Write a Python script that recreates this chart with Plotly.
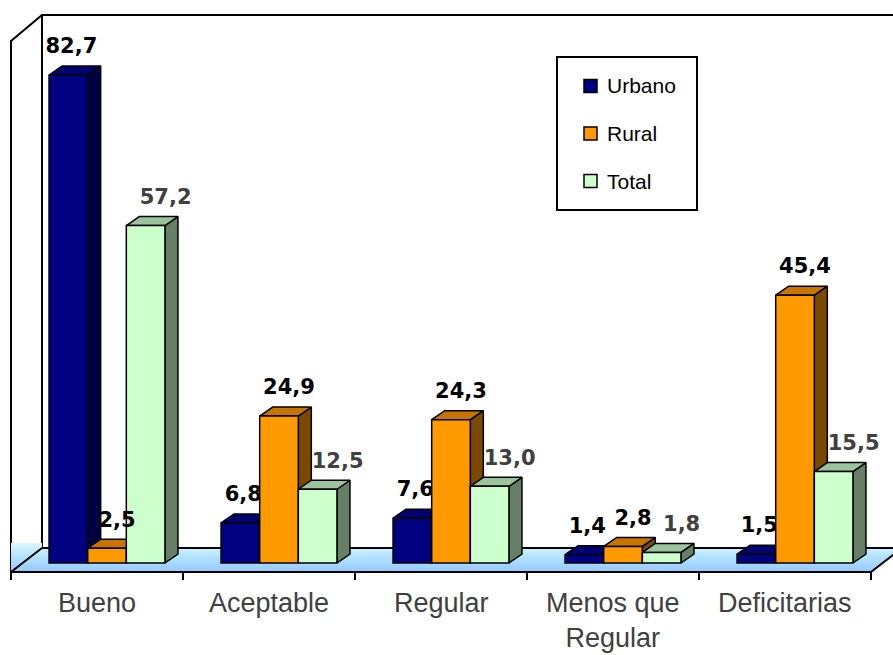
import plotly.graph_objects as go

# ---------------- data ----------------
categories = ["Bueno", "Aceptable", "Regular", "Menos que<br>Regular", "Deficitarias"]
series_names = ["Urbano", "Rural", "Total"]
urbano = [82.7, 6.8, 7.6, 1.4, 1.5]
rural = [2.5, 24.9, 24.3, 2.8, 45.4]
total = [57.2, 12.5, 13.0, 1.8, 15.5]
y_max = 90

# ---------------- styles ----------------
front_colors = ["#000080", "#FF9900", "#CCFFCC"]
top_colors = ["#00006E", "#C87400", "#9CC49C"]
side_colors = ["#000042", "#7A4A00", "#667F66"]
label_colors = ["#000000", "#000000", "#404040"]
label_dx_px = [3, 10, 20]

W, H = 893, 655
PX_X = 172.0   # px per category
PX_Y = 5.9     # px per value unit
X0_PX = 107.0  # pixel of first category centre (bar front plane)
Y0_PX = 563.0  # pixel of value 0 (bar front plane)

def dx(px):
    return px / PX_X

def dy(px):
    return px / PX_Y

xr = [(0 - X0_PX) / PX_X, (W - X0_PX) / PX_X]
yr = [(Y0_PX - H) / PX_Y, Y0_PX / PX_Y]

bar_ox, bar_oy = dx(13), dy(9)        # bar depth
front_ox, front_oy = dx(-10), dy(-9)  # floor front edge
back_ox, back_oy = dx(21), dy(15)     # back wall plane

group_w = 0.674
bar_w = group_w / 3
n = len(categories)
series = [urbano, rural, total]

fig = go.Figure()

# ---------------- walls ----------------
L = -0.5
R = n - 0.5
# back wall
fig.add_trace(go.Scatter(
    x=[L + back_ox, R + back_ox, R + back_ox, L + back_ox, L + back_ox],
    y=[back_oy, back_oy, y_max + back_oy + dy(2), y_max + back_oy + dy(2), back_oy],
    mode="lines", fill="toself", fillcolor="white",
    line=dict(color="black", width=2), hoverinfo="skip", showlegend=False))
# left wall
fig.add_trace(go.Scatter(
    x=[L + front_ox, L + front_ox, L + back_ox, L + back_ox, L + front_ox],
    y=[front_oy, y_max + front_oy, y_max + back_oy + dy(2), back_oy, front_oy],
    mode="lines", fill="toself", fillcolor="white",
    line=dict(color="black", width=2), hoverinfo="skip", showlegend=False))
# floor (gradient)
fig.add_trace(go.Scatter(
    x=[L + front_ox, L + front_ox, L + back_ox, L + back_ox, R + back_ox, R + front_ox, L + front_ox],
    y=[front_oy, back_oy + dy(5), back_oy + dy(5), back_oy, back_oy, front_oy, front_oy],
    mode="lines", fill="toself",
    fillgradient=dict(type="vertical",
                      colorscale=[[0, "#96C8FF"], [0.55, "#B4E4FF"], [1, "#DDF7FF"]]),
    line=dict(color="rgba(0,0,0,0)", width=0), hoverinfo="skip", showlegend=False))
# floor outline
fig.add_trace(go.Scatter(
    x=[L + back_ox, L + front_ox, R + front_ox, R + back_ox, None, L + back_ox, R + back_ox],
    y=[back_oy, front_oy, front_oy, back_oy, None, back_oy, back_oy],
    mode="lines", line=dict(color="black", width=2), hoverinfo="skip", showlegend=False))
# ticks
tx, ty = [], []
for b in range(n + 1):
    tx += [L + b + front_ox, L + b + front_ox, None]
    ty += [front_oy, front_oy - dy(8), None]
fig.add_trace(go.Scatter(x=tx, y=ty, mode="lines", line=dict(color="black", width=2),
                         hoverinfo="skip", showlegend=False))

# ---------------- bar tops and sides ----------------
for k, vals in enumerate(series):
    sx, sy, ux, uy = [], [], [], []
    for i, v in enumerate(vals):
        c = i + (k - 1) * bar_w
        xl, xrt = c - bar_w / 2, c + bar_w / 2
        sx += [xrt, xrt + bar_ox, xrt + bar_ox, xrt, xrt, None]
        sy += [0, bar_oy, v + bar_oy, v, 0, None]
        ux += [xl, xrt, xrt + bar_ox, xl + bar_ox, xl, None]
        uy += [v, v, v + bar_oy, v + bar_oy, v, None]
    fig.add_trace(go.Scatter(x=sx, y=sy, mode="lines", fill="toself", fillcolor=side_colors[k],
                             line=dict(color="black", width=1.5), hoverinfo="skip", showlegend=False))
    fig.add_trace(go.Scatter(x=ux, y=uy, mode="lines", fill="toself", fillcolor=top_colors[k],
                             line=dict(color="black", width=1.5), hoverinfo="skip", showlegend=False))

def fmt(v):
    return f"{v:.1f}".replace(".", ",")

def label_trace(k, axes):
    vals = series[k]
    return go.Scatter(
        x=[i + (k - 1) * bar_w + dx(label_dx_px[k]) for i in range(n)],
        y=[v + dy(27) for v in vals],
        text=[fmt(v) for v in vals], mode="text", textposition="middle center",
        textfont=dict(family="DejaVu Sans", size=21, color=label_colors[k], weight="bold"),
        hoverinfo="skip", showlegend=False, xaxis=axes[0], yaxis=axes[1], cliponaxis=False)

# Urbano labels sit behind neighbouring bar fronts
fig.add_trace(label_trace(0, ("x", "y")))

# ---------------- bar fronts (overlay axes) ----------------
for k, vals in enumerate(series):
    fig.add_trace(go.Bar(
        x=list(range(n)), y=vals, name=series_names[k],
        marker=dict(color=front_colors[k], line=dict(color="black", width=1.5)),
        xaxis="x2", yaxis="y2", showlegend=False, hoverinfo="skip"))

fig.add_trace(label_trace(1, ("x2", "y2")))
fig.add_trace(label_trace(2, ("x2", "y2")))

# ---------------- category labels ----------------
for i, cat in enumerate(categories):
    fig.add_annotation(x=i + front_ox, y=(Y0_PX - 586) / PX_Y, xref="x", yref="y",
                       text=cat, showarrow=False, xanchor="center", yanchor="top",
                       font=dict(family="Liberation Sans", size=27, color="#404040"))

# ---------------- legend (manual) ----------------
def px(p):
    return p / W

def py(p):
    return 1 - p / H

fig.add_shape(type="rect", xref="paper", yref="paper",
              x0=px(557), x1=px(697), y0=py(57), y1=py(210),
              line=dict(color="black", width=2), fillcolor="white")
for k, name in enumerate(series_names):
    cy = 86 + 47.5 * k
    fig.add_shape(type="rect", xref="paper", yref="paper",
                  x0=px(584), x1=px(597), y0=py(cy - 6.5), y1=py(cy + 6.5),
                  line=dict(color="black", width=1.5), fillcolor=front_colors[k])
    fig.add_annotation(x=px(605), y=py(cy), xref="paper", yref="paper", text=name,
                       showarrow=False, xanchor="left", yanchor="middle",
                       font=dict(family="Liberation Sans", size=21, color="black"))

ax = dict(range=xr, visible=False, fixedrange=True)
ay = dict(range=yr, visible=False, fixedrange=True)
fig.update_layout(
    width=W, height=H, margin=dict(l=0, r=0, t=0, b=0),
    paper_bgcolor="white", plot_bgcolor="white",
    barmode="group", bargap=1 - group_w, bargroupgap=0,
    xaxis=dict(**ax), yaxis=dict(**ay),
    xaxis2=dict(**ax, overlaying="x"), yaxis2=dict(**ay, overlaying="y"),
    showlegend=False,
)

fig.write_html("out.html", config={"displayModeBar": False},
               post_script="document.body.style.margin='0px';document.body.style.overflow='hidden';")
